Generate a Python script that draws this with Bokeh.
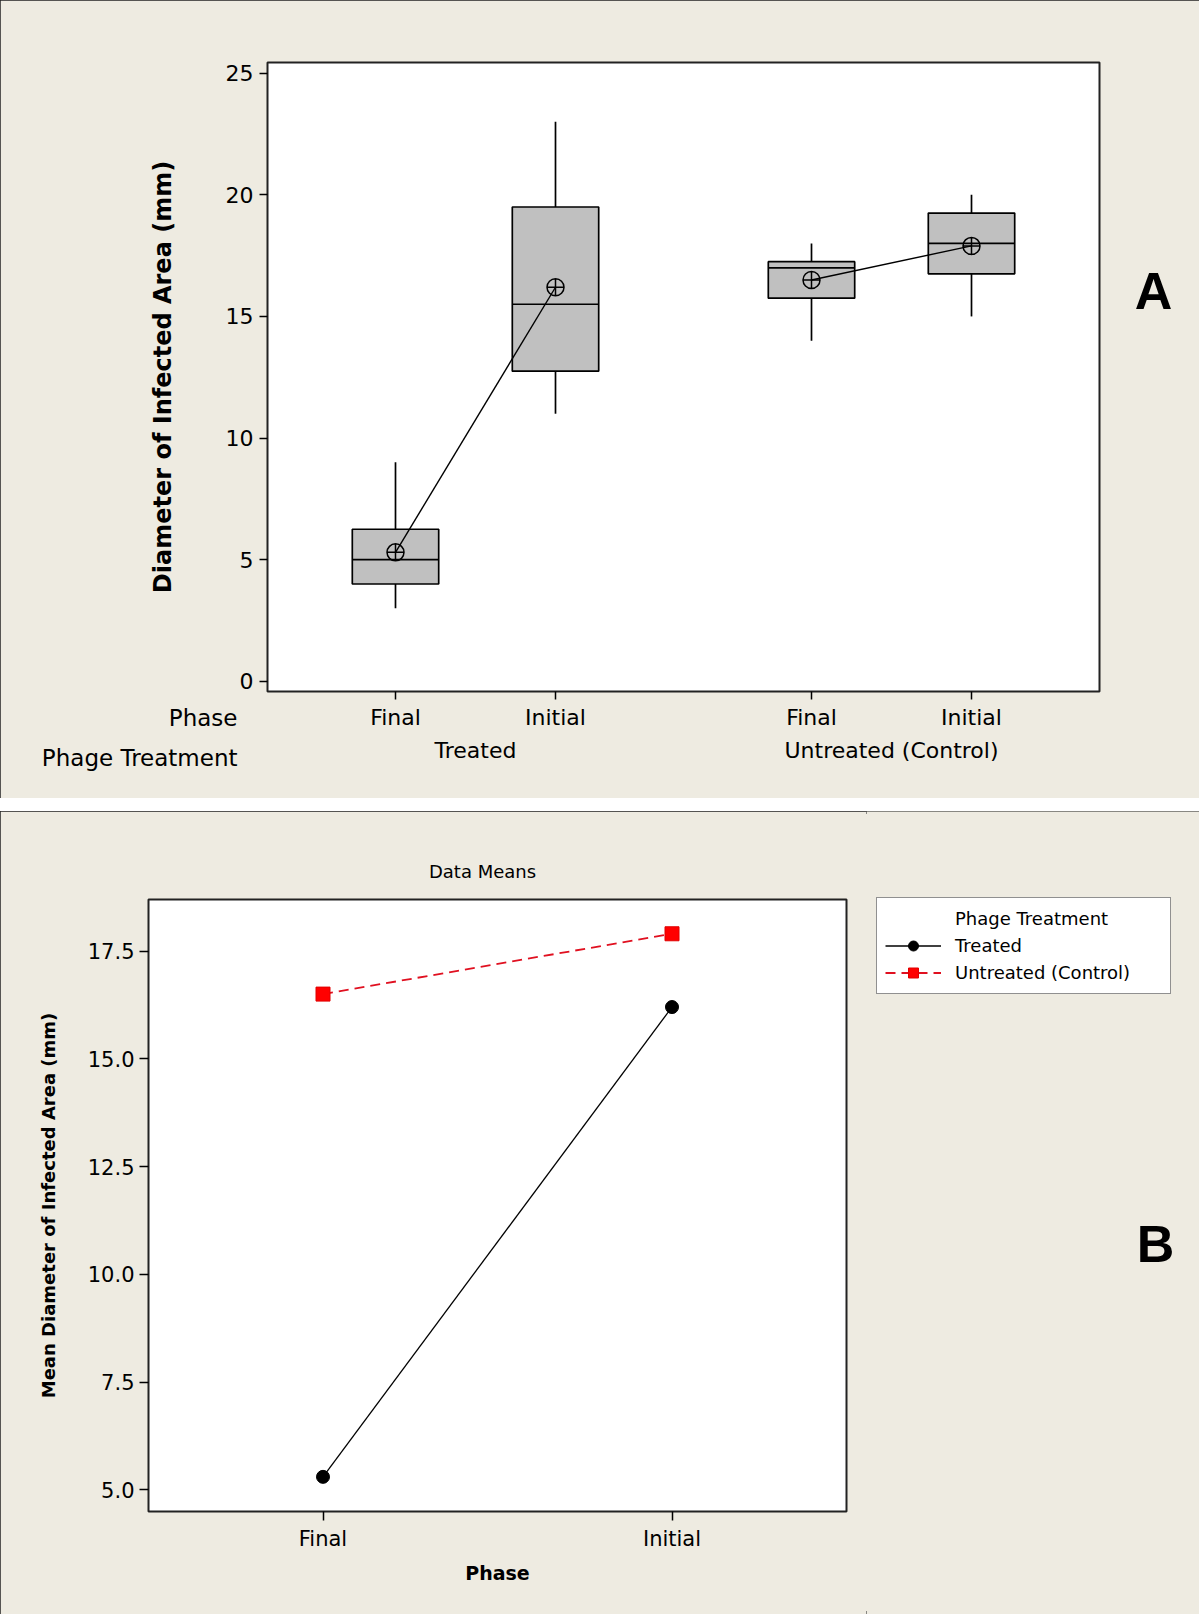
from bokeh.plotting import figure
from bokeh.models import (FactorRange, Range1d, FixedTicker, Label, Legend, LegendItem,
                          ColumnDataSource, PrintfTickFormatter, Row)
from bokeh.transform import dodge
from bokeh.layouts import column
from bokeh.embed import file_html
from bokeh.resources import INLINE

# ---------------- data ----------------
treatments = ["Treated", "Treated", "Untreated (Control)", "Untreated (Control)"]
phases = ["Final", "Initial", "Final", "Initial"]
whisker_low = [3, 11, 14, 15]
q1 = [4, 12.75, 15.75, 16.75]
median = [5, 15.5, 17, 18]
q3 = [6.25, 19.5, 17.25, 19.25]
whisker_high = [9, 23, 18, 20]
means = [5.3, 16.2, 16.5, 17.9]
y_ticks_a = [0, 5, 10, 15, 20, 25]

phase_levels = ["Final", "Initial"]
treated_means = [5.3, 16.2]
untreated_means = [16.5, 17.9]
y_ticks_b = [5.0, 7.5, 10.0, 12.5, 15.0, 17.5]

BG = "#EEEBE1"
FONT = "DejaVu Sans"
PANEL_STYLE = {"outline": "3px solid #222222", "outline-offset": "-3px",
               "background-color": BG}
W = 1199
RED_LINE = "#E01020"
RED_FILL = "#FF0000"


def style_ticks(ax, size):
    ax.major_label_text_font = FONT
    ax.major_label_text_font_size = size
    ax.major_label_text_color = "black"
    ax.major_tick_in = 0
    ax.major_tick_line_color = "black"
    ax.major_tick_line_width = 1.5
    ax.minor_tick_line_color = None
    ax.axis_line_color = None


# ---------------- panel A: boxplot ----------------
factors = list(zip(treatments, phases))
xr = FactorRange(factors=factors, group_padding=0.6, range_padding=0.3,
                 range_padding_units="absolute")
pA = figure(width=W, height=798, x_range=xr, y_range=Range1d(-0.42, 25.44),
            output_backend="svg", toolbar_location=None, frame_align=False,
            min_border_left=267, min_border_right=W - 1099, min_border_top=62,
            min_border_bottom=107,
            background_fill_color="white", border_fill_color=BG,
            outline_line_color="#222222", outline_line_width=2, styles=PANEL_STYLE)
pA.title.visible = False
pA.grid.visible = False

src = ColumnDataSource(dict(x=factors, lo=whisker_low, q1=q1, med=median, q3=q3,
                            hi=whisker_high, mean=means))
pA.segment(x0="x", y0="q3", x1="x", y1="hi", source=src, line_color="black", line_width=1.7)
pA.segment(x0="x", y0="lo", x1="x", y1="q1", source=src, line_color="black", line_width=1.7)
pA.vbar(x="x", bottom="q1", top="q3", width=0.54, source=src, fill_color="#C0C0C0",
        line_color="black", line_width=1.7)
pA.segment(x0=dodge("x", -0.27, range=xr), y0="med", x1=dodge("x", 0.27, range=xr), y1="med",
           source=src, line_color="black", line_width=1.7)
for grp in ["Treated", "Untreated (Control)"]:
    gx = [f for f in factors if f[0] == grp]
    gy = [m for f, m in zip(factors, means) if f[0] == grp]
    pA.line(x=gx, y=gy, line_color="black", line_width=1.4)
pA.scatter(x="x", y="mean", source=src, marker="circle_cross", size=17, fill_color=None,
           line_color="black", line_width=1.5)

yA = pA.yaxis[0]
yA.ticker = FixedTicker(ticks=y_ticks_a)
style_ticks(yA, "22px")
yA.axis_label = "Diameter of Infected Area (mm)"
yA.axis_label_text_font = FONT
yA.axis_label_text_font_style = "bold"
yA.axis_label_text_font_size = "24px"
yA.axis_label_text_color = "black"
yA.axis_label_standoff = 46
yA.major_label_standoff = 6
yA.major_tick_out = 8

xA = pA.xaxis[0]
style_ticks(xA, "22px")
xA.major_label_standoff = 5
xA.major_label_text_line_height = 1.7
xA.group_text_font = FONT
xA.group_text_font_size = "22px"
xA.group_text_font_style = "normal"
xA.group_text_color = "black"
xA.separator_line_color = None
xA.major_tick_out = 8

# row captions of the two-level axis (placed in the top side panel, drawn below the frame)
pA.add_layout(Label(x=-30, y=62 - 717, x_units="screen", y_units="screen", text="Phase",
                    text_align="right", text_baseline="middle", text_font=FONT,
                    text_font_size="23px", text_color="black"), "above")
pA.add_layout(Label(x=-30, y=35 - 756, x_units="screen", y_units="screen",
                    text="Phage Treatment", text_align="right", text_baseline="middle",
                    text_font=FONT, text_font_size="23px", text_color="black"), "above")
pA.add_layout(Label(x=54, y=401, x_units="screen", y_units="screen", text="A",
                    text_align="center", text_baseline="middle", text_font="Liberation Sans",
                    text_font_style="bold", text_font_size="52px", text_color="black"), "right")

# ---------------- panel B: interaction plot ----------------
HB = 803
WB_MAIN = 866
pB = figure(width=WB_MAIN, height=HB, x_range=FactorRange(factors=phase_levels),
            y_range=Range1d(4.496, 18.695),
            output_backend="svg", toolbar_location=None, frame_align=False,
            min_border_left=148, min_border_right=WB_MAIN - 846, min_border_top=88,
            min_border_bottom=103,
            background_fill_color="white", border_fill_color=BG,
            outline_line_color="#222222", outline_line_width=2)
pB.title.visible = False
pB.grid.visible = False

pB.line(x=phase_levels, y=treated_means, line_color="black", line_width=1.3)
pB.scatter(x=phase_levels, y=treated_means, marker="circle", size=13,
           fill_color="black", line_color="black")
pB.line(x=phase_levels, y=untreated_means, line_color=RED_LINE, line_width=1.8,
        line_dash="10 6")
pB.scatter(x=phase_levels, y=untreated_means, marker="square", size=14,
           fill_color=RED_FILL, line_color="#E00000")

yB = pB.yaxis[0]
yB.ticker = FixedTicker(ticks=y_ticks_b)
yB.formatter = PrintfTickFormatter(format="%.1f")
style_ticks(yB, "21px")
yB.axis_label = "Mean Diameter of Infected Area (mm)"
yB.axis_label_text_font = FONT
yB.axis_label_text_font_style = "bold"
yB.axis_label_text_font_size = "18px"
yB.axis_label_text_color = "black"
yB.axis_label_standoff = 26
yB.major_label_standoff = 5
yB.major_tick_out = 9

xB = pB.xaxis[0]
style_ticks(xB, "21px")
xB.axis_label = "Phase"
xB.axis_label_text_font = FONT
xB.axis_label_text_font_style = "bold"
xB.axis_label_text_font_size = "19px"
xB.axis_label_text_color = "black"
xB.axis_label_standoff = 8
xB.major_label_standoff = 6
xB.major_tick_out = 9

pB.add_layout(Label(x=334, y=28, x_units="screen", y_units="screen", text="Data Means",
                    text_align="center", text_baseline="middle", text_font=FONT,
                    text_font_size="18px", text_color="black"), "above")

# legend area to the right of the plot (its own canvas, same panel background)
WB_LEG = W - WB_MAIN
pL = figure(width=WB_LEG, height=HB, x_range=Range1d(0, 1), y_range=Range1d(0, 1),
            output_backend="svg", toolbar_location=None, frame_align=False,
            x_axis_location=None, y_axis_location=None, min_border=0,
            background_fill_color=BG, border_fill_color=BG, outline_line_color=None)
pL.title.visible = False
pL.grid.visible = False

# legend keys: one point each, kept outside the visible range so only the key shows
key_x = [5]
key_y = [5]
ghost = pL.line(x=key_x, y=key_y, line_alpha=0)
k_lt = pL.line(x=key_x, y=key_y, line_color="black", line_width=1.3)
k_st = pL.scatter(x=key_x, y=key_y, marker="circle", size=12, fill_color="black",
                  line_color="black")
k_lu = pL.line(x=key_x, y=key_y, line_color=RED_LINE, line_width=1.8, line_dash="10 6")
k_su = pL.scatter(x=key_x, y=key_y, marker="square", size=12, fill_color=RED_FILL,
                  line_color="#E00000")

legend = Legend(items=[LegendItem(label="Phage Treatment", renderers=[ghost]),
                       LegendItem(label="Treated", renderers=[k_lt, k_st]),
                       LegendItem(label="Untreated (Control)", renderers=[k_lu, k_su])],
                location=(876 - WB_MAIN, HB - 88 - 95), orientation="vertical",
                border_line_color="#222222", border_line_width=1.5,
                background_fill_color="white", background_fill_alpha=1.0,
                label_text_font=FONT, label_text_font_size="18px", label_text_color="black",
                glyph_width=56, glyph_height=25, label_height=25, label_width=207,
                label_standoff=14, padding=8, spacing=2, margin=0)
pL.add_layout(legend, "center")
pL.add_layout(Label(x=1155 - WB_MAIN, y=HB - (1243 - 811), x_units="screen", y_units="screen",
                    text="B", text_align="center", text_baseline="middle",
                    text_font="Liberation Sans", text_font_style="bold",
                    text_font_size="52px", text_color="black"))

panelB = Row(children=[pB, pL], width=W, height=HB, sizing_mode="fixed", styles=PANEL_STYLE)
layout = column(pA, panelB, spacing=13)
open("out.html", "w").write(file_html(layout, INLINE))
